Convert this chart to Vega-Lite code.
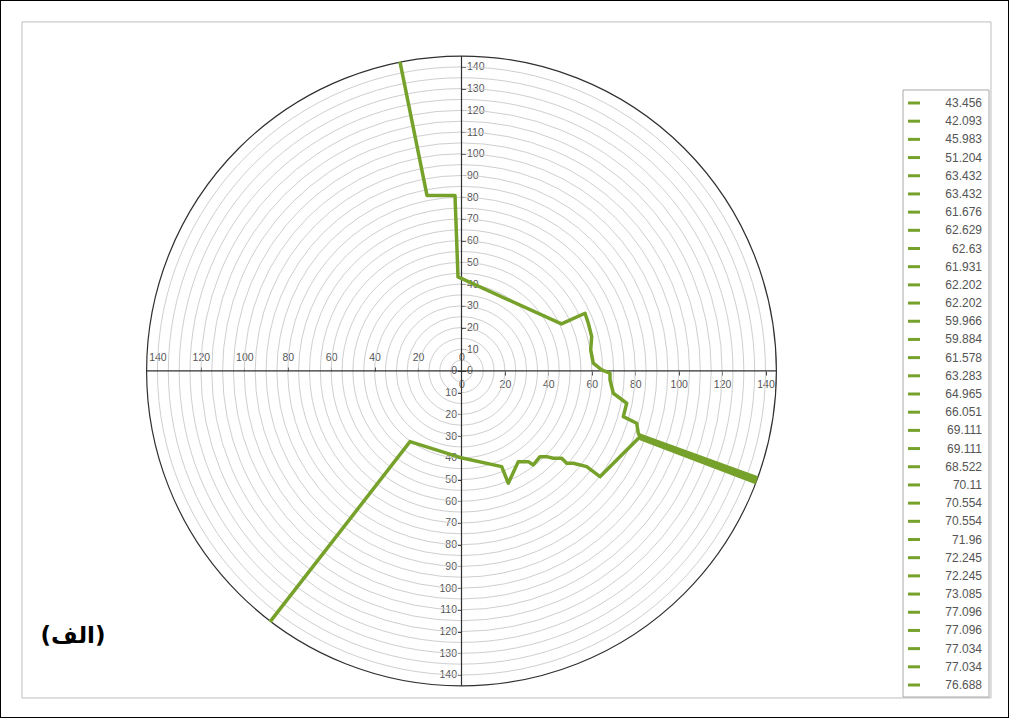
{
  "$schema": "https://vega.github.io/schema/vega-lite/v6.json",
  "width": 1009,
  "height": 718,
  "autosize": {"type": "none"},
  "padding": 0,
  "background": "white",
  "config": {"view": {"stroke": "#000000", "strokeWidth": 2}},
  "datasets": {
    "rings": [{"r":5},{"r":10},{"r":15},{"r":20},{"r":25},{"r":30},{"r":35},{"r":40},{"r":45},{"r":50},{"r":55},{"r":60},{"r":65},{"r":70},{"r":75},{"r":80},{"r":85},{"r":90},{"r":95},{"r":100},{"r":105},{"r":110},{"r":115},{"r":120},{"r":125},{"r":130},{"r":135},{"r":140}],
    "outer": [{"r":145}],
    "path": [
      {"s":"m","i":1,"x":-28.32,"y":142.28},
      {"s":"m","i":2,"x":-15.89,"y":80.81},
      {"s":"m","i":3,"x":-2.99,"y":80.81},
      {"s":"m","i":4,"x":-1.61,"y":43.28},
      {"s":"m","i":5,"x":46.04,"y":21.64},
      {"s":"m","i":6,"x":56.87,"y":26.57},
      {"s":"m","i":7,"x":58.39,"y":21.96},
      {"s":"m","i":8,"x":59.95,"y":15.79},
      {"s":"m","i":9,"x":59.49,"y":9.67},
      {"s":"m","i":10,"x":60.69,"y":3.55},
      {"s":"m","i":11,"x":64.55,"y":0.46},
      {"s":"m","i":12,"x":68.38,"y":-1.06},
      {"s":"m","i":13,"x":68.38,"y":-4.14},
      {"s":"m","i":14,"x":69.9,"y":-10.27},
      {"s":"m","i":15,"x":76.07,"y":-14.87},
      {"s":"m","i":16,"x":74.5,"y":-21.04},
      {"s":"m","i":17,"x":80.67,"y":-24.08},
      {"s":"m","i":18,"x":81.41,"y":-28.69},
      {"s":"m","i":19,"x":82.19,"y":-30.25},
      {"s":"m","i":20,"x":76.07,"y":-36.38},
      {"s":"m","i":21,"x":63.77,"y":-48.67},
      {"s":"m","i":22,"x":57.65,"y":-44.07},
      {"s":"m","i":23,"x":51.48,"y":-42.5},
      {"s":"m","i":24,"x":48.44,"y":-42.5},
      {"s":"m","i":25,"x":46.14,"y":-40.2},
      {"s":"m","i":26,"x":42.27,"y":-40.2},
      {"s":"m","i":27,"x":39.23,"y":-39.46},
      {"s":"m","i":28,"x":36.15,"y":-39.46},
      {"s":"m","i":29,"x":33.06,"y":-43.28},
      {"s":"m","i":30,"x":30.76,"y":-41.76},
      {"s":"m","i":31,"x":26.15,"y":-41.76},
      {"s":"m","i":32,"x":21.55,"y":-51.71},
      {"s":"m","i":33,"x":18.51,"y":-44.07},
      {"s":"m","i":34,"x":-0.69,"y":-39.83},
      {"s":"m","i":35,"x":-23.71,"y":-32.55},
      {"s":"m","i":36,"x":-88.18,"y":-115.57},
      {"s":"a","i":1,"x":81.8,"y":-29.5},
      {"s":"a","i":2,"x":136.3,"y":-49.2},
      {"s":"b","i":1,"x":82.19,"y":-30.25},
      {"s":"b","i":2,"x":136.0,"y":-50.3},
      {"s":"c","i":1,"x":82.1,"y":-31.0},
      {"s":"c","i":2,"x":135.6,"y":-51.4}
    ],
    "legend": [
      {"i":1,"label":"43.456"},{"i":2,"label":"42.093"},{"i":3,"label":"45.983"},{"i":4,"label":"51.204"},
      {"i":5,"label":"63.432"},{"i":6,"label":"63.432"},{"i":7,"label":"61.676"},{"i":8,"label":"62.629"},
      {"i":9,"label":"62.63"},{"i":10,"label":"61.931"},{"i":11,"label":"62.202"},{"i":12,"label":"62.202"},
      {"i":13,"label":"59.966"},{"i":14,"label":"59.884"},{"i":15,"label":"61.578"},{"i":16,"label":"63.283"},
      {"i":17,"label":"64.965"},{"i":18,"label":"66.051"},{"i":19,"label":"69.111"},{"i":20,"label":"69.111"},
      {"i":21,"label":"68.522"},{"i":22,"label":"70.11"},{"i":23,"label":"70.554"},{"i":24,"label":"70.554"},
      {"i":25,"label":"71.96"},{"i":26,"label":"72.245"},{"i":27,"label":"72.245"},{"i":28,"label":"73.085"},
      {"i":29,"label":"77.096"},{"i":30,"label":"77.096"},{"i":31,"label":"77.034"},{"i":32,"label":"77.034"},
      {"i":33,"label":"76.688"}
    ],
    "caption": [{"text":"(الف)"}]
  },
  "layer": [
    {
      "layer": [
        {
          "data": {"values": [{}]},
          "mark": {"type": "rect", "fill": "transparent", "stroke": "#bdbdbd", "strokeWidth": 1},
          "encoding": {
            "x": {"datum": -202.37, "type": "quantitative", "scale": {"domain": [-212.5, 252.1], "nice": false, "zero": false}, "axis": null},
            "x2": {"datum": 243.81},
            "y": {"datum": 160.7, "type": "quantitative", "scale": {"domain": [-159.8, 170.8], "nice": false, "zero": false}, "axis": null},
            "y2": {"datum": -150.57}
          }
        },
        {
          "data": {"name": "rings"},
          "mark": {"type": "arc", "theta": 0, "theta2": 6.2832, "fillOpacity": 0, "stroke": "#cfcfcf", "strokeWidth": 1},
          "encoding": {
            "x": {"datum": 0, "type": "quantitative", "scale": {"domain": [-212.5, 252.1], "nice": false, "zero": false}, "axis": null},
            "y": {"datum": 0, "type": "quantitative", "scale": {"domain": [-159.8, 170.8], "nice": false, "zero": false}, "axis": null},
            "radius": {"field": "r", "type": "quantitative", "stack": null, "scale": {"type": "linear", "domain": [0, 145], "range": [0, 314.9], "zero": true, "nice": false}}
          }
        },
        {
          "data": {"name": "outer"},
          "mark": {"type": "arc", "theta": 0, "theta2": 6.2832, "fillOpacity": 0, "stroke": "#303030", "strokeWidth": 1.2},
          "encoding": {
            "x": {"datum": 0, "type": "quantitative", "scale": {"domain": [-212.5, 252.1], "nice": false, "zero": false}, "axis": null},
            "y": {"datum": 0, "type": "quantitative", "scale": {"domain": [-159.8, 170.8], "nice": false, "zero": false}, "axis": null},
            "radius": {"field": "r", "type": "quantitative", "stack": null, "scale": {"type": "linear", "domain": [0, 145], "range": [0, 314.9], "zero": true, "nice": false}}
          }
        },
        {
          "data": {"values": [{}]},
          "mark": {"type": "rule", "color": "#303030", "strokeWidth": 1.2},
          "encoding": {
            "x": {"datum": -145, "type": "quantitative", "scale": {"domain": [-212.5, 252.1], "nice": false, "zero": false},
              "axis": {"orient": "bottom", "offset": -347, "values": [0,20,40,60,80,100,120,140], "domain": false, "grid": false, "title": null, "tickSize": 4, "tickColor": "#404040", "labelFontSize": 10.5, "labelFont": "Liberation Sans", "labelColor": "#555555", "labelPadding": 4, "labelOverlap": false, "labelFlush": false, "labelExpr": "format(abs(datum.value), 'd')"}},
            "x2": {"datum": 145},
            "y": {"datum": 0, "type": "quantitative", "scale": {"domain": [-159.8, 170.8], "nice": false, "zero": false}, "axis": null}
          }
        },
        {
          "data": {"values": [{}]},
          "mark": {"type": "rule", "color": "#303030", "strokeWidth": 1.2},
          "encoding": {
            "x": {"datum": 0, "type": "quantitative", "scale": {"domain": [-212.5, 252.1], "nice": false, "zero": false}, "axis": null},
            "y": {"datum": -145, "type": "quantitative", "scale": {"domain": [-159.8, 170.8], "nice": false, "zero": false},
              "axis": {"orient": "right", "offset": -547.5, "values": [0,10,20,30,40,50,60,70,80,90,100,110,120,130,140], "domain": false, "grid": false, "title": null, "tickSize": 4, "tickColor": "#404040", "labelFontSize": 10.5, "labelFont": "Liberation Sans", "labelColor": "#555555", "labelPadding": 1, "labelOverlap": false, "labelFlush": false, "labelExpr": "format(abs(datum.value), 'd')"}},
            "y2": {"datum": 145}
          }
        },
        {
          "data": {"name": "path"},
          "mark": {"type": "line", "color": "#76a22b", "strokeWidth": 3.5, "strokeJoin": "round"},
          "encoding": {
            "x": {"field": "x", "type": "quantitative", "scale": {"domain": [-212.5, 252.1], "nice": false, "zero": false},
              "axis": {"orient": "top", "offset": -371, "values": [-140,-120,-100,-80,-60,-40,-20,0], "domain": false, "grid": false, "title": null, "tickSize": 4, "tickColor": "#404040", "labelFontSize": 10.5, "labelFont": "Liberation Sans", "labelColor": "#555555", "labelPadding": 5, "labelOverlap": false, "labelFlush": false, "labelExpr": "format(abs(datum.value), 'd')"}},
            "y": {"field": "y", "type": "quantitative", "scale": {"domain": [-159.8, 170.8], "nice": false, "zero": false},
              "axis": {"orient": "left", "offset": -461.5, "values": [-140,-130,-120,-110,-100,-90,-80,-70,-60,-50,-40,-30,-20,-10,0], "domain": false, "grid": false, "title": null, "tickSize": 4, "tickColor": "#404040", "labelFontSize": 10.5, "labelFont": "Liberation Sans", "labelColor": "#555555", "labelPadding": 1, "labelOverlap": false, "labelFlush": false, "labelExpr": "format(abs(datum.value), 'd')"}},
            "detail": {"field": "s", "type": "nominal"},
            "order": {"field": "i", "type": "quantitative"}
          }
        },
        {
          "data": {"name": "caption"},
          "mark": {"type": "text", "font": "DejaVu Sans", "fontWeight": "bold", "fontSize": 23, "align": "center", "baseline": "middle", "color": "#000000"},
          "encoding": {
            "x": {"datum": -178.9, "type": "quantitative", "scale": {"domain": [-212.5, 252.1], "nice": false, "zero": false}, "axis": null},
            "y": {"datum": -122.0, "type": "quantitative", "scale": {"domain": [-159.8, 170.8], "nice": false, "zero": false}, "axis": null},
            "text": {"field": "text", "type": "nominal"}
          }
        }
      ],
      "resolve": {"axis": {"x": "independent", "y": "independent"}}
    },
    {
      "layer": [
        {
          "data": {"values": [{}]},
          "mark": {"type": "rect", "fill": "white", "stroke": "#a8a8a8", "strokeWidth": 1},
          "encoding": {
            "x": {"datum": 0, "type": "quantitative", "scale": {"domain": [0, 1], "range": [903, 989], "nice": false, "zero": false}, "axis": null},
            "x2": {"datum": 1},
            "y": {"datum": 0.285, "type": "quantitative", "scale": {"domain": [1, 33], "range": [103, 685], "nice": false, "zero": false}, "axis": null},
            "y2": {"datum": 33.66}
          }
        },
        {
          "data": {"name": "legend"},
          "mark": {"type": "rule", "color": "#76a22b", "strokeWidth": 3},
          "encoding": {
            "x": {"datum": 0.058, "type": "quantitative", "scale": {"domain": [0, 1], "range": [903, 989], "nice": false, "zero": false}, "axis": null},
            "x2": {"datum": 0.198},
            "y": {"field": "i", "type": "quantitative", "scale": {"domain": [1, 33], "range": [103, 685], "nice": false, "zero": false}, "axis": null}
          }
        },
        {
          "data": {"name": "legend"},
          "mark": {"type": "text", "align": "right", "baseline": "middle", "font": "Liberation Sans", "fontSize": 12, "color": "#555555"},
          "encoding": {
            "x": {"datum": 0.919, "type": "quantitative", "scale": {"domain": [0, 1], "range": [903, 989], "nice": false, "zero": false}, "axis": null},
            "y": {"field": "i", "type": "quantitative", "scale": {"domain": [1, 33], "range": [103, 685], "nice": false, "zero": false}, "axis": null},
            "text": {"field": "label", "type": "nominal"}
          }
        }
      ]
    }
  ],
  "resolve": {"scale": {"x": "independent", "y": "independent"}}
}
